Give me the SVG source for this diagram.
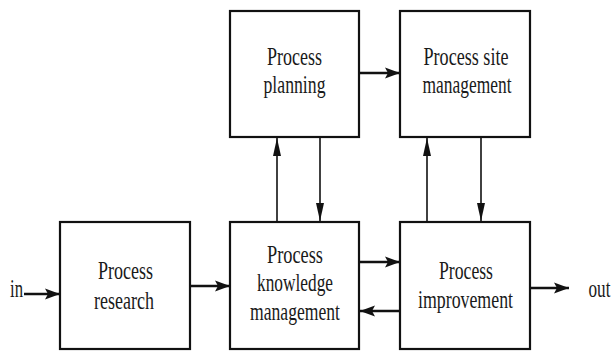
<svg xmlns="http://www.w3.org/2000/svg" width="613" height="351" viewBox="0 0 613 351">
<style>
.box{fill:#fff;stroke:#111;stroke-width:2.2}
.t{font-family:"Liberation Serif","Times New Roman",serif;font-size:26px;fill:#1a1a1a;text-anchor:middle}
.h{stroke:#111;stroke-width:2.5;fill:none;marker-end:url(#ah)}
.v{stroke:#111;stroke-width:1.6;fill:none;marker-end:url(#av)}
</style>
<defs>
<marker id="ah" markerUnits="userSpaceOnUse" markerWidth="15" markerHeight="12" refX="15" refY="6" orient="auto">
<path d="M0,0.5 L15,6 L0,11.5 L3,6 z" fill="#111"/>
</marker>
<marker id="av" markerUnits="userSpaceOnUse" markerWidth="18" markerHeight="10" refX="18" refY="5" orient="auto">
<path d="M0,1 L18,5 L0,9 z" fill="#111"/>
</marker>
</defs>
<rect width="613" height="351" fill="#fff"/>
<g id="connectors">
<line class="h" x1="24" y1="294" x2="60" y2="294"/>
<line class="h" x1="190" y1="286" x2="230" y2="286"/>
<line class="h" x1="359" y1="73" x2="400" y2="73"/>
<line class="h" x1="359" y1="262" x2="400" y2="262"/>
<line class="h" x1="400" y1="311" x2="360" y2="311"/>
<line class="h" x1="530" y1="288" x2="569" y2="288"/>
<line class="v" x1="277" y1="222" x2="277" y2="138"/>
<line class="v" x1="320" y1="137" x2="320" y2="221"/>
<line class="v" x1="427" y1="222" x2="427" y2="138"/>
<line class="v" x1="481" y1="137" x2="481" y2="221"/>
</g>
<g id="label-in"><text class="t" x="16.5" y="297" textLength="13" lengthAdjust="spacingAndGlyphs">in</text></g>
<g id="label-out"><text class="t" transform="translate(599.5,297) scale(0.66,1)" x="0" y="0">out</text></g>
<g id="planning">
<rect class="box" x="230" y="11" width="129" height="126"/>
<text class="t" x="294.5" y="65" textLength="55" lengthAdjust="spacingAndGlyphs">Process</text>
<text class="t" x="294.5" y="93" textLength="62" lengthAdjust="spacingAndGlyphs">planning</text>
</g>
<g id="site">
<rect class="box" x="400" y="11" width="130" height="126"/>
<text class="t" x="466" y="65" textLength="85" lengthAdjust="spacingAndGlyphs">Process site</text>
<text class="t" x="467" y="93" textLength="89" lengthAdjust="spacingAndGlyphs">management</text>
</g>
<g id="research">
<rect class="box" x="60" y="222" width="130" height="127"/>
<text class="t" x="125.5" y="279" textLength="55" lengthAdjust="spacingAndGlyphs">Process</text>
<text class="t" x="124" y="309" textLength="60" lengthAdjust="spacingAndGlyphs">research</text>
</g>
<g id="knowledge">
<rect class="box" x="230" y="222" width="129" height="127"/>
<text class="t" x="295" y="263" textLength="56" lengthAdjust="spacingAndGlyphs">Process</text>
<text class="t" x="295" y="291" textLength="76" lengthAdjust="spacingAndGlyphs">knowledge</text>
<text class="t" x="295" y="320" textLength="90" lengthAdjust="spacingAndGlyphs">management</text>
</g>
<g id="improvement">
<rect class="box" x="400" y="222" width="130" height="127"/>
<text class="t" x="466" y="279" textLength="54" lengthAdjust="spacingAndGlyphs">Process</text>
<text class="t" x="465.5" y="308" textLength="95" lengthAdjust="spacingAndGlyphs">improvement</text>
</g>
</svg>
